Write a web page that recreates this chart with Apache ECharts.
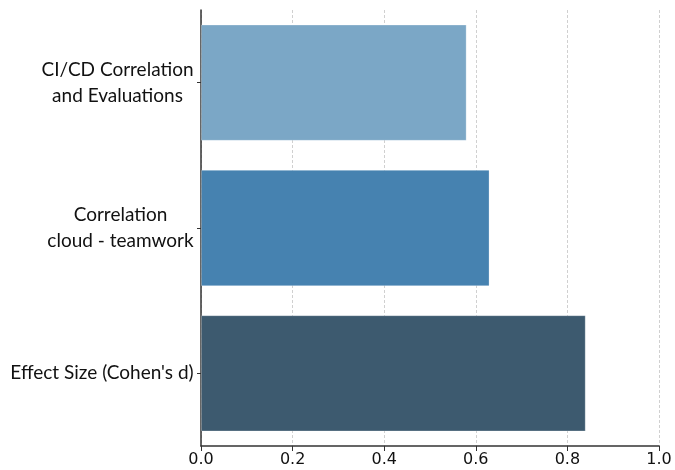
<!DOCTYPE html>
<html><head><meta charset="utf-8">
<script src="https://cdn.jsdelivr.net/npm/echarts@6/dist/echarts.min.js"></script>
<style>html,body{margin:0;padding:0;background:#fff}#c{width:675px;height:470px}</style>
</head><body><div id="c"></div>
<script>
const categories = ["CI/CD Correlation\nand Evaluations", "Correlation\ncloud - teamwork", "Effect Size (Cohen's d)"];
const values = [0.58, 0.63, 0.84];
const barColors = ["#7BA7C6", "#4682B0", "#3D5A6F"];
const xTicks = [0, 0.2, 0.4, 0.6, 0.8, 1.0];

const labelFont = '19px Lato';
const cv = document.createElement('canvas').getContext('2d');
cv.font = labelFont;
const rich = {};
categories.forEach((c, i) => {
  const w = Math.max(...c.split('\n').map(s => cv.measureText(s).width));
  rich['r' + i] = { width: Math.ceil(w), align: 'center', fontFamily: 'Lato', fontSize: 19, color: '#111', lineHeight: 26 };
});

const chart = echarts.init(document.getElementById('c'), null, { renderer: 'canvas' });
chart.setOption({
  animation: false,
  grid: { left: 201, right: 16, top: 10, bottom: 24, containLabel: false },
  xAxis: {
    type: 'value', min: 0, max: 1, interval: 0.2,
    axisLine: { show: true, lineStyle: { color: '#333', width: 1.5 } },
    axisTick: { show: true, length: 5, lineStyle: { color: '#333' } },
    axisLabel: { fontFamily: 'DejaVu Sans', fontSize: 16, color: '#111', margin: 6,
      formatter: v => v.toFixed(1) },
    splitLine: { show: true, lineStyle: { color: '#d0d0d0', type: [3, 2], width: 1 } }
  },
  yAxis: {
    type: 'category', data: categories, inverse: true,
    axisLine: { show: true, lineStyle: { color: '#333', width: 1.5 } },
    axisTick: { show: true, length: 4, alignWithLabel: true, lineStyle: { color: '#333' } },
    axisLabel: { margin: 7, align: 'right',
      formatter: (v, i) => v.split('\n').map(s => '{r' + i + '|' + s + '}').join('\n'),
      rich: rich },
    splitLine: { show: false }
  },
  series: [{
    type: 'bar', barWidth: '80%',
    data: values.map((v, i) => ({ value: v, itemStyle: { color: barColors[i] } })),
    itemStyle: { borderColor: 'rgba(255,255,255,0.25)', borderWidth: 1 }
  }]
});
</script></body></html>
